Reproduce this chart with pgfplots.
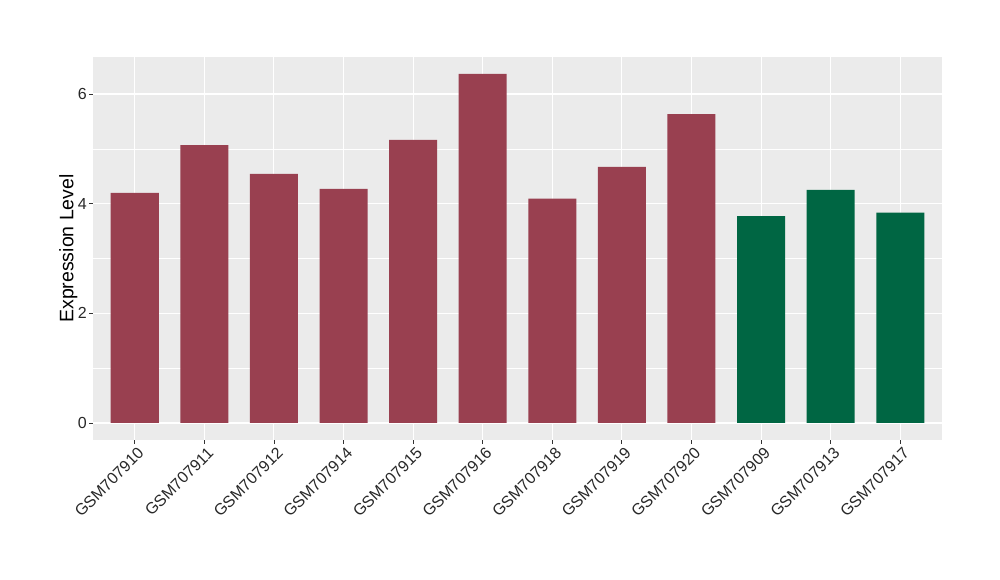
\documentclass[border=0pt]{standalone}
\usepackage{pgfplots}
\pgfplotsset{compat=1.18}
\usepackage{fontspec}
\setmainfont{Liberation Sans}
\definecolor{barred}{RGB}{153,64,80}
\definecolor{bargreen}{RGB}{0,102,67}
\definecolor{panelbg}{RGB}{235,235,235}
\definecolor{tickcol}{RGB}{51,51,51}
\definecolor{labcol}{RGB}{40,40,40}
\begin{document}
\begin{tikzpicture}[x=1pt,y=1pt]
\path[use as bounding box,fill=white] (0,0) rectangle (1000,580);
\begin{axis}[
  at={(93pt,140pt)}, anchor=south west,
  scale only axis, width=849pt, height=383pt,
  xmin=-0.6, xmax=11.6, ymin=-0.31, ymax=6.675,
  axis background/.style={fill=panelbg},
  axis line style={draw=none},
  xtick={0,...,11},
  xticklabels={GSM707910,GSM707911,GSM707912,GSM707914,GSM707915,GSM707916,GSM707918,GSM707919,GSM707920,GSM707909,GSM707913,GSM707917},
  ytick={0,2,4,6},
  minor ytick={1,3,5},
  grid=both,
  major grid style={white, line width=1.1pt},
  minor grid style={white, line width=0.55pt},
  tick style={tickcol, line width=0.8pt},
  major tick length=4pt,
  tick align=outside,
  minor tick length=0pt,
  xtick pos=bottom, ytick pos=left,
  ticklabel style={font=\fontsize{16}{18}\selectfont, text=labcol},
  xticklabel style={rotate=45, anchor=north east, inner sep=1pt, yshift=-2pt, xshift=1pt},
  yticklabel style={inner sep=2pt},
  ylabel={Expression Level},
  ylabel style={font=\fontsize{19.5}{22}\selectfont, yshift=-5pt},
  /pgf/number format/assume math mode=true,
  ybar, bar width=0.69, bar shift=0pt,
  clip=false,
]
\addplot[fill=barred, draw=none] coordinates {(0,4.195) (1,5.07) (2,4.545) (3,4.27) (4,5.165) (5,6.365) (6,4.09) (7,4.67) (8,5.635)};
\addplot[fill=bargreen, draw=none] coordinates {(9,3.775) (10,4.25) (11,3.835)};
\end{axis}
\end{tikzpicture}
\end{document}
